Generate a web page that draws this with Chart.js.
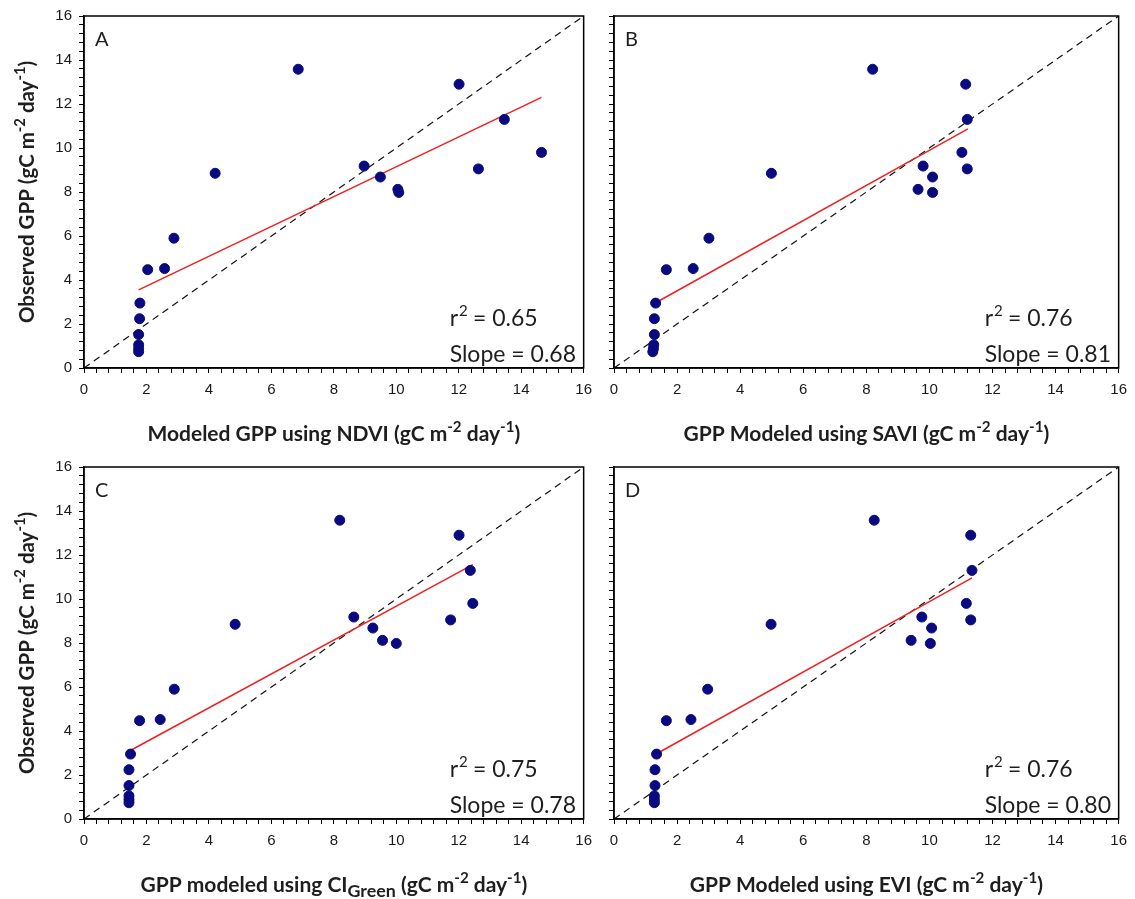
<!DOCTYPE html>
<html>
<head>
<meta charset="utf-8">
<title>Observed vs modeled GPP</title>
<script src="https://cdn.jsdelivr.net/npm/chart.js@4.4.1/dist/chart.umd.min.js"></script>
<style>
  html, body { margin: 0; padding: 0; background: #fff; }
  #page { position: relative; width: 1135px; height: 899px; overflow: hidden; }
  #page canvas { position: absolute; }
</style>
</head>
<body>
<div id="page">
  <canvas id="panelA" width="600" height="450" style="left:0;top:0"></canvas>
  <canvas id="panelB" width="545" height="450" style="left:590px;top:0"></canvas>
  <canvas id="panelC" width="600" height="449" style="left:0;top:450px"></canvas>
  <canvas id="panelD" width="545" height="449" style="left:590px;top:450px"></canvas>
</div>
<script>
// Observed GPP (same sites in every panel)
const obsGPP = [13.58, 12.9, 11.3, 9.8, 9.05, 9.18, 8.68, 8.12, 7.98, 8.85, 5.9, 4.47, 4.52, 2.95, 2.24, 1.52, 1.05, 0.88, 0.74];

// Modeled GPP for each vegetation index
const ndviGPP    = [6.86, 12.01, 13.46, 14.65, 12.63, 8.97, 9.49, 10.05, 10.08, 4.2, 2.88, 2.04, 2.58, 1.79, 1.78, 1.75, 1.75, 1.75, 1.75];
const saviGPP    = [8.2, 11.15, 11.2, 11.03, 11.2, 9.8, 10.1, 9.64, 10.1, 4.99, 3.01, 1.66, 2.51, 1.32, 1.28, 1.28, 1.26, 1.25, 1.23];
const ciGreenGPP = [8.19, 12.01, 12.37, 12.45, 11.74, 8.64, 9.25, 9.56, 10.0, 4.84, 2.89, 1.78, 2.44, 1.49, 1.44, 1.44, 1.44, 1.44, 1.44];
const eviGPP     = [8.25, 11.31, 11.35, 11.17, 11.31, 9.76, 10.07, 9.42, 10.03, 4.98, 2.97, 1.66, 2.44, 1.35, 1.3, 1.3, 1.28, 1.28, 1.28];

// Regression line end points
const ndviFitX = [1.75, 14.65],    ndviFitY = [3.55, 12.3];
const saviFitX = [1.25, 11.22],    saviFitY = [2.91, 10.87];
const ciGreenFitX = [1.44, 12.45], ciGreenFitY = [3.08, 11.56];
const eviFitX = [1.28, 11.35],     eviFitY = [2.91, 10.96];

// 1:1 line and axis range
const oneToOne = [0, 16];
const axisMin = 0, axisMax = 16, minorStep = 0.4, majorStep = 2;

// Panel text
const panelLetters = ["A", "B", "C", "D"];
const r2Values = ["0.65", "0.76", "0.75", "0.76"];
const slopeValues = ["0.68", "0.81", "0.78", "0.80"];
const xTitles = [
  [["Modeled GPP using NDVI (gC m", ""], ["-2", "sup"], [" day", ""], ["-1", "sup"], [")", ""]],
  [["GPP Modeled using SAVI (gC m", ""], ["-2", "sup"], [" day", ""], ["-1", "sup"], [")", ""]],
  [["GPP modeled using CI", ""], ["Green", "sub"], [" (gC m", ""], ["-2", "sup"], [" day", ""], ["-1", "sup"], [")", ""]],
  [["GPP Modeled using EVI (gC m", ""], ["-2", "sup"], [" day", ""], ["-1", "sup"], [")", ""]]
];
const yTitle = [["Observed GPP (gC m", ""], ["-2", "sup"], [" day", ""], ["-1", "sup"], [")", ""]];

const FONT = "Lato, 'Open Sans', sans-serif";
const TEXT_COLOR = "#1e1e1e";

// draw text with super/subscripts, centred on x, y = baseline
function drawRich(ctx, parts, x, y, size, weight) {
  const fontFor = kind => `${weight} ${kind === "sup" ? size * 0.72 : kind === "sub" ? size * 0.85 : size}px ${FONT}`;
  let total = 0;
  parts.forEach(([t, kind]) => {
    ctx.font = fontFor(kind);
    total += ctx.measureText(t).width;
  });
  let cx = x - total / 2;
  ctx.textAlign = "left";
  ctx.textBaseline = "alphabetic";
  parts.forEach(([t, kind]) => {
    ctx.font = fontFor(kind);
    const dy = kind === "sup" ? -size * 0.42 : kind === "sub" ? size * 0.25 : 0;
    ctx.fillText(t, cx, y + dy);
    cx += ctx.measureText(t).width;
  });
}

function isMajor(v) {
  return Math.abs(v / majorStep - Math.round(v / majorStep)) < 1e-6;
}

// frame, panel letter, stats and axis titles
const panelDecor = {
  id: "panelDecor",
  afterDraw(chart, args, opts) {
    const { ctx, chartArea: a } = chart;
    ctx.save();
    ctx.strokeStyle = "#000";
    ctx.lineWidth = 1.5;
    ctx.strokeRect(a.left, a.top, a.right - a.left, a.bottom - a.top);

    ctx.fillStyle = TEXT_COLOR;
    ctx.font = `20px ${FONT}`;
    ctx.textAlign = "left";
    ctx.textBaseline = "alphabetic";
    ctx.fillText(opts.letter, a.left + 11, a.top + 30);

    // r2 and slope
    const sx = a.right - 134;
    ctx.font = `23px ${FONT}`;
    ctx.fillText("r", sx, a.bottom - 42);
    const rw = ctx.measureText("r").width;
    ctx.font = `15px ${FONT}`;
    ctx.fillText("2", sx + rw + 1, a.bottom - 52);
    ctx.font = `23px ${FONT}`;
    ctx.fillText(" = " + opts.r2, sx + rw + 9, a.bottom - 42);
    ctx.fillText("Slope = " + opts.slope, sx, a.bottom - 6);

    // x title
    const cx = (a.left + a.right) / 2;
    drawRich(ctx, opts.xTitle, cx, a.bottom + 73, 21, "bold");

    // y title (left panels only)
    if (opts.yTitle) {
      ctx.translate(27, (a.top + a.bottom) / 2);
      ctx.rotate(-Math.PI / 2);
      drawRich(ctx, opts.yTitle, 0, 7, 20.5, "bold");
    }
    ctx.restore();
  }
};

function axisOptions(position, showLabels, fitSize) {
  return {
    type: "linear",
    position,
    min: axisMin,
    max: axisMax,
    border: { display: true, color: "#000", width: 1.5 },
    grid: { display: true, drawOnChartArea: false, drawTicks: true, tickLength: 5, color: "#000", lineWidth: 1 },
    ticks: {
      stepSize: minorStep,
      autoSkip: false,
      maxRotation: 0,
      minRotation: 0,
      padding: position === "bottom" ? 8 : 7,
      color: "#1a1a1a",
      font: { family: "'Liberation Sans', Arial, sans-serif", size: 15 },
      callback: v => (showLabels && isMajor(v)) ? String(Math.round(v)) : ""
    },
    afterFit: scale => {
      if (position === "bottom") scale.height = fitSize;
      else scale.width = fitSize;
    }
  };
}

function makePanel(canvasId, idx, modeled, fitX, fitY, leftPanel, padding) {
  const points = modeled.map((x, i) => ({ x, y: obsGPP[i] }));
  const fitLine = fitX.map((x, i) => ({ x, y: fitY[i] }));
  const diag = oneToOne.map(v => ({ x: v, y: v }));

  return new Chart(document.getElementById(canvasId), {
    type: "scatter",
    data: {
      datasets: [
        {
          label: "Sites",
          data: points,
          pointRadius: 5,
          pointHoverRadius: 5,
          pointBackgroundColor: "#0a0a80",
          pointBorderColor: "#0a0a80",
          pointBorderWidth: 1,
          order: 0
        },
        {
          type: "line",
          label: "Fit",
          data: fitLine,
          borderColor: "#f02020",
          borderWidth: 1.5,
          pointRadius: 0,
          fill: false,
          order: 1
        },
        {
          type: "line",
          label: "1:1",
          data: diag,
          borderColor: "#111",
          borderWidth: 1.2,
          borderDash: [7, 5],
          pointRadius: 0,
          fill: false,
          order: 2
        }
      ]
    },
    options: {
      responsive: false,
      animation: false,
      layout: { padding },
      plugins: {
        legend: { display: false },
        tooltip: { enabled: false },
        panelDecor: {
          letter: panelLetters[idx],
          r2: r2Values[idx],
          slope: slopeValues[idx],
          xTitle: xTitles[idx],
          yTitle: leftPanel ? yTitle : null
        }
      },
      scales: {
        x: axisOptions("bottom", true, 40),
        y: axisOptions("left", leftPanel, leftPanel ? 84 : 24)
      }
    },
    plugins: [panelDecor]
  });
}

makePanel("panelA", 0, ndviGPP, ndviFitX, ndviFitY, true, { left: 0, top: 15, right: 12, bottom: 42 });
makePanel("panelB", 1, saviGPP, saviFitX, saviFitY, false, { left: 0, top: 15, right: 15, bottom: 42 });
makePanel("panelC", 2, ciGreenGPP, ciGreenFitX, ciGreenFitY, true, { left: 0, top: 17, right: 12, bottom: 40 });
makePanel("panelD", 3, eviGPP, eviFitX, eviFitY, false, { left: 0, top: 17, right: 15, bottom: 40 });
</script>
</body>
</html>
